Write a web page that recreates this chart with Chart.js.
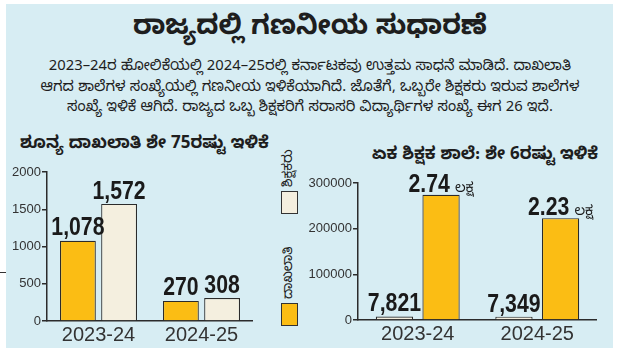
<!DOCTYPE html>
<html>
<head>
<meta charset="utf-8">
<script src="https://cdn.jsdelivr.net/npm/chart.js@4"></script>
<style>
  body{margin:0;width:620px;height:361px;background:#fff;position:relative;overflow:hidden;
    font-family:'Noto Sans Kannada','Noto Sans','Liberation Sans',sans-serif;color:#1e1e1e;}
  .panel{position:absolute;left:6px;top:4px;width:607px;height:344px;background:#d7edf3;}
  .title{position:absolute;left:0;top:11px;width:620px;text-align:center;font-size:27px;font-weight:bold;line-height:40px;}
  .para{position:absolute;left:0;top:58px;width:620px;text-align:center;font-size:14.8px;line-height:20.5px;}
  .sub{position:absolute;font-size:17px;font-weight:bold;white-space:nowrap;}
  canvas{position:absolute;}
  .lg-box{position:absolute;left:281px;width:17px;height:23px;border:1px solid #333;box-sizing:border-box;}
  .lg-txt{position:absolute;font-size:13.5px;white-space:nowrap;transform:rotate(-90deg);transform-origin:left top;}
  .tick{position:absolute;left:0;top:272px;width:6px;height:1px;background:#333;}
</style>
</head>
<body>
<div class="panel"></div>
<div class="tick"></div>
<div class="title">ರಾಜ್ಯದಲ್ಲಿ ಗಣನೀಯ ಸುಧಾರಣೆ</div>
<div class="para">2023–24ರ ಹೋಲಿಕೆಯಲ್ಲಿ 2024–25ರಲ್ಲಿ ಕರ್ನಾಟಕವು ಉತ್ತಮ ಸಾಧನೆ ಮಾಡಿದೆ. ದಾಖಲಾತಿ<br>ಆಗದ ಶಾಲೆಗಳ ಸಂಖ್ಯೆಯಲ್ಲಿ ಗಣನೀಯ ಇಳಿಕೆಯಾಗಿದೆ. ಜೊತೆಗೆ, ಒಬ್ಬರೇ ಶಿಕ್ಷಕರು ಇರುವ ಶಾಲೆಗಳ<br>ಸಂಖ್ಯೆ ಇಳಿಕೆ ಆಗಿದೆ. ರಾಜ್ಯದ ಒಬ್ಬ ಶಿಕ್ಷಕರಿಗೆ ಸರಾಸರಿ ವಿದ್ಯಾರ್ಥಿಗಳ ಸಂಖ್ಯೆ ಈಗ 26 ಇದೆ.</div>
<div class="sub" id="leftTitle" style="left:20px;top:134px;"></div>
<div class="sub" id="rightTitle" style="left:372px;top:145px;"></div>
<canvas id="left-chart" width="253" height="190" style="left:0;top:160px;"></canvas>
<canvas id="right-chart" width="297" height="190" style="left:300px;top:160px;"></canvas>
<div id="legend"></div>
<script>
'use strict';

const years = ['2023-24', '2024-25'];
const seriesNames = ['ಶಿಕ್ಷಕರು', 'ದಾಖಲಾತಿ'];

// left: zero enrolment schools
const leftTitle = 'ಶೂನ್ಯ ದಾಖಲಾತಿ ಶೇ 75ರಷ್ಟು ಇಳಿಕೆ';
const zeroEnrolYellow = [1078, 270];
const zeroEnrolCream = [1572, 308];
const leftTicks = [0, 500, 1000, 1500, 2000];

// right: single teacher schools
const rightTitle = 'ಏಕ ಶಿಕ್ಷಕ ಶಾಲೆ: ಶೇ 6ರಷ್ಟು ಇಳಿಕೆ';
const singleTeacherCream = [7821, 7349];
const singleTeacherYellow = [274000, 223000];
const rightTicks = [0, 100000, 200000, 300000];
const lakhWord = 'ಲಕ್ಷ';

const YELLOW = '#fbbd14';
const CREAM = '#f4efdf';
const INK = '#2b2b2b';

document.getElementById('leftTitle').textContent = leftTitle;
document.getElementById('rightTitle').textContent = rightTitle;

// legend (vertical, rotated text)
const legend = document.getElementById('legend');
legend.innerHTML =
  '<div class="lg-txt" style="left:281px;top:187px;">' + seriesNames[0] + '</div>' +
  '<div class="lg-box" style="top:191px;background:' + CREAM + '"></div>' +
  '<div class="lg-txt" style="left:281px;top:299px;">' + seriesNames[1] + '</div>' +
  '<div class="lg-box" style="top:303px;background:' + YELLOW + '"></div>';

const fmtComma = v => v.toLocaleString('en-US');
const fmtLakh = v => (v / 100000).toFixed(2);

////////////////////////
//// value labels //////
const valueLabels = {
  id: 'valueLabels',
  afterDatasetsDraw(chart) {
    const ctx = chart.ctx;
    chart.data.datasets.forEach((ds, i) => {
      chart.getDatasetMeta(i).data.forEach((bar, j) => {
        const num = ds.fmt(ds.data[j]);
        const sq = 0.85;
        ctx.save();
        ctx.fillStyle = '#1a1a1a';
        ctx.font = 'bold 25px "Liberation Sans", Arial, sans-serif';
        const w = ctx.measureText(num).width * sq;
        let sw = 0;
        if (ds.suffix) {
          ctx.font = '14px "Noto Sans Kannada", "Noto Sans", sans-serif';
          sw = ctx.measureText(ds.suffix).width + 5;
        }
        const x0 = bar.x - (w + sw) / 2;
        const y0 = bar.y - ds.gap;
        if (ds.suffix) {
          ctx.textAlign = 'left';
          ctx.textBaseline = 'alphabetic';
          ctx.fillText(ds.suffix, x0 + w + 5, y0);
        }
        ctx.translate(x0, y0);
        ctx.scale(sq, 1);
        ctx.font = 'bold 25px "Liberation Sans", Arial, sans-serif';
        ctx.textAlign = 'left';
        ctx.textBaseline = 'alphabetic';
        ctx.fillText(num, 0, 0);
        ctx.restore();
      });
    });
  }
};

const makeScales = (ticks, yWidth, xHeight) => ({
  x: {
    grid: { display: false },
    border: { display: true, color: INK, width: 1.5 },
    ticks: { color: '#333', font: { family: 'Liberation Sans', size: 20 }, padding: -6 },
    afterFit: s => { s.height = xHeight; }
  },
  y: {
    min: ticks[0], max: ticks[ticks.length - 1],
    afterBuildTicks: s => { s.ticks = ticks.map(v => ({ value: v })); },
    ticks: { color: '#333', padding: 1, callback: v => String(v),
      font: { family: 'Liberation Sans', size: 13 } },
    grid: { drawOnChartArea: false, drawTicks: true, tickLength: 5, color: INK, lineWidth: 1.5 },
    border: { display: true, color: INK, width: 1.5 },
    afterFit: s => { s.width = yWidth; }
  }
});

///////////////////////
//// Left chart ///////
const ctxl = document.getElementById('left-chart').getContext('2d');
const chartl = new Chart(ctxl, {
  type: 'bar',
  data: {
    labels: years,
    datasets: [{
      data: zeroEnrolYellow, fmt: fmtComma, gap: 6,
      backgroundColor: YELLOW, borderColor: INK, borderWidth: 1.2, borderSkipped: 'bottom'
    }, {
      data: zeroEnrolCream, fmt: fmtComma, gap: 5,
      backgroundColor: CREAM, borderColor: INK, borderWidth: 1.2, borderSkipped: 'bottom'
    }]
  },
  options: {
    responsive: false,
    animation: false,
    categoryPercentage: 0.8,
    barPercentage: 0.87,
    layout: { padding: { top: 12, left: 0, right: 0, bottom: 0 } },
    plugins: { legend: { display: false }, tooltip: { enabled: false } },
    scales: makeScales(leftTicks, 47, 29)
  },
  plugins: [valueLabels]
});

///////////////////////
//// Right chart //////
const ctxr = document.getElementById('right-chart').getContext('2d');
const chartr = new Chart(ctxr, {
  type: 'bar',
  data: {
    labels: years,
    datasets: [{
      data: singleTeacherCream, fmt: fmtComma, gap: 5,
      backgroundColor: CREAM, borderColor: INK, borderWidth: 1.2, borderSkipped: 'bottom'
    }, {
      data: singleTeacherYellow, fmt: fmtLakh, suffix: lakhWord, gap: 3,
      backgroundColor: YELLOW, borderColor: INK, borderWidth: 1.2, borderSkipped: 'bottom'
    }]
  },
  options: {
    responsive: false,
    animation: false,
    categoryPercentage: 0.78,
    barPercentage: 0.8,
    layout: { padding: { top: 23, left: 0, right: 0, bottom: 0 } },
    plugins: { legend: { display: false }, tooltip: { enabled: false } },
    scales: makeScales(rightTicks, 58, 30)
  },
  plugins: [valueLabels]
});
</script>
</body>
</html>
